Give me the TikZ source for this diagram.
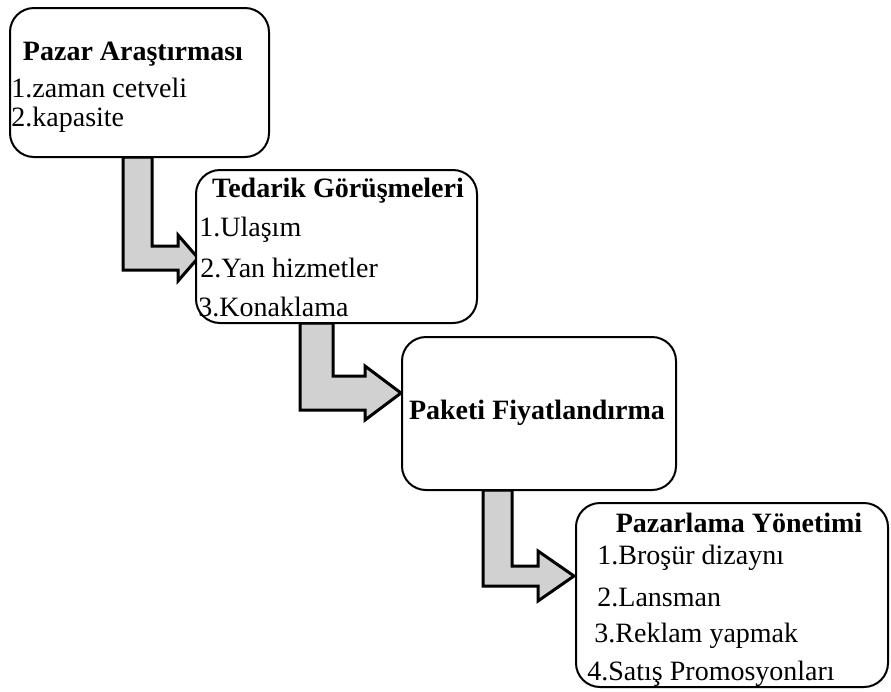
\documentclass[tikz,border=0pt]{standalone}
\usepackage{fontspec}
\setmainfont{Liberation Serif}
\begin{document}
\begin{tikzpicture}[x=0.5pt,y=-0.5pt,
  box/.style={draw=black,line width=1pt,fill=white,rounded corners=12pt,inner sep=0pt},
  ttl/.style={font=\fontsize{14}{16}\selectfont\bfseries,inner sep=0pt},
  itm/.style={font=\fontsize{14}{16}\selectfont,inner sep=0pt,anchor=west},
  blockarrow/.style={draw=black,line width=1.5pt,fill=black!18,line join=miter}]
\useasboundingbox (0,0) rectangle (891,692);
% boxes (shape anchors)
\coordinate (b1nw) at (10,8);   \coordinate (b1se) at (269,157);
\coordinate (b2nw) at (196,170); \coordinate (b2se) at (477,323);
\coordinate (b3nw) at (402,337); \coordinate (b3se) at (676,490);
\coordinate (b4nw) at (576,503); \coordinate (b4se) at (888,687);
% arrows
\draw[blockarrow] (123,157) -- (123,270) -- (178,270) -- (178,281) -- (198,258) -- (178,235) -- (178,246) -- (152,246) -- (152,157) -- cycle;
\draw[blockarrow] (300,323) -- (300,410) -- (365,410) -- (365,420) -- (401,393) -- (365,366) -- (365,376) -- (333,376) -- (333,323) -- cycle;
\draw[blockarrow] (483,490) -- (483,586) -- (538,586) -- (538,601) -- (574,576) -- (538,551) -- (538,566) -- (512,566) -- (512,490) -- cycle;
% boxes
\draw[box] (b1nw) rectangle (b1se);
\draw[box] (b2nw) rectangle (b2se);
\draw[box] (b3nw) rectangle (b3se);
\draw[box] (b4nw) rectangle (b4se);
% texts
\node[ttl] (t1) at (133,54) {Pazar Araştırması};
\node[itm] (t1a) at (11,88) {1.zaman cetveli};
\node[itm] (t1b) at (11,120) {2.kapasite};
\node[ttl] (t2) at (338,191) {Tedarik Görüşmeleri};
\node[itm] (t2a) at (199,230) {1.Ulaşım};
\node[itm] (t2b) at (200,268) {2.Yan hizmetler};
\node[itm] (t2c) at (198,307) {3.Konaklama};
\node[ttl] (t3) at (537,413) {Paketi Fiyatlandırma};
\node[ttl] (t4) at (739,523) {Pazarlama Yönetimi};
\node[itm] (t4a) at (597,558) {1.Broşür dizaynı};
\node[itm] (t4b) at (597,597) {2.Lansman};
\node[itm] (t4c) at (594,636) {3.Reklam yapmak};
\node[itm] (t4d) at (587,674) {4.Satış Promosyonları};
\end{tikzpicture}
\end{document}
